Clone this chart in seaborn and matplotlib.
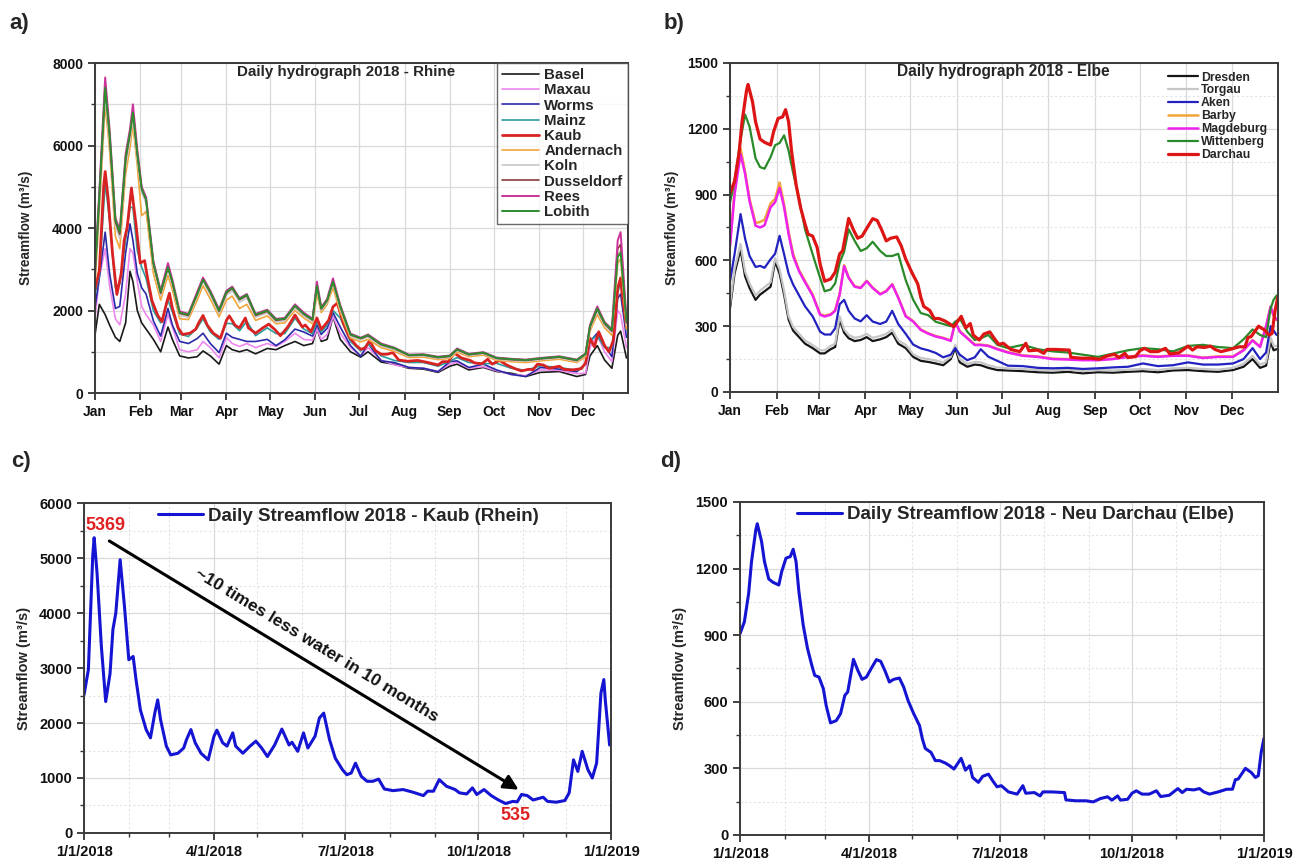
import numpy as np
import pandas as pd
import matplotlib
matplotlib.use("Agg")
import matplotlib.pyplot as plt
import seaborn as sns
from matplotlib.ticker import MultipleLocator, FixedLocator

# ---------------- Rhine (panel a) ----------------
rhine_days = [0, 3, 7, 10, 14, 17, 21, 24, 26, 29, 32, 35, 40, 45, 50, 53, 58, 64, 70, 74,
              79, 85, 90, 94, 99, 104, 110, 118, 124, 130, 137, 143, 149, 152, 155, 159, 163, 168, 175, 182,
              187, 196, 205, 215, 225, 235, 243, 248, 256, 266, 275, 285, 295, 305, 318, 330, 336, 339, 344, 349,
              354, 358, 360, 364]
basel = [1400, 2150, 1900, 1650, 1350, 1250, 1700, 2950, 2700, 2000, 1700, 1550, 1300, 1000, 1600, 1300, 900, 850, 880, 1020,
         900, 700, 1150, 1050, 1000, 1050, 950, 1080, 1050, 1150, 1250, 1150, 1200, 1550, 1250, 1300, 1850, 1300, 1000, 870,
         1000, 750, 700, 600, 580, 500, 650, 700, 560, 620, 520, 480, 400, 500, 520, 400, 450, 900, 1150, 800,
         600, 1400, 1500, 850]
maxau = [1800, 2800, 3500, 2600, 1800, 1650, 2400, 3500, 3400, 2700, 2100, 1900, 1650, 1250, 1900, 1600, 1050, 1000, 1050, 1250,
         1100, 850, 1350, 1200, 1130, 1200, 1100, 1200, 1130, 1250, 1450, 1300, 1280, 1550, 1300, 1420, 1850, 1450, 1100, 900,
         1100, 800, 680, 620, 600, 520, 700, 750, 600, 640, 540, 450, 420, 560, 550, 470, 480, 1100, 1400, 1000,
         760, 2000, 1900, 1100]
worms = [2060, 2800, 3900, 2900, 2050, 2100, 3400, 4100, 3700, 2900, 2550, 2400, 1750, 1380, 2050, 1650, 1250, 1200, 1320, 1450,
         1200, 980, 1450, 1350, 1300, 1250, 1250, 1300, 1150, 1290, 1550, 1480, 1380, 1650, 1420, 1570, 1950, 1600, 1150, 890,
         1200, 780, 740, 620, 600, 520, 760, 780, 620, 700, 560, 450, 400, 620, 580, 517, 700, 1250, 1450, 1150,
         880, 2300, 2400, 1350]
mainz = [2400, 2850, 5100, 4200, 2550, 2650, 3700, 4500, 4500, 3450, 3050, 2780, 2000, 1700, 2250, 1970, 1430, 1370, 1580, 1800,
         1480, 1300, 1690, 1680, 1510, 1740, 1390, 1580, 1440, 1440, 1810, 1550, 1440, 1740, 1480, 1650, 2000, 1820, 1250, 1020,
         1200, 900, 790, 740, 740, 650, 770, 860, 740, 710, 720, 600, 550, 660, 620, 550, 700, 1270, 1390, 1100,
         1100, 2440, 2670, 1530]
andernach = [2600, 4400, 7000, 5900, 3800, 3500, 5300, 5950, 6500, 5500, 4300, 4400, 2900, 2250, 2850, 2500, 1800, 1780, 2250, 2600,
             2280, 1850, 2250, 2350, 2050, 2150, 1760, 1870, 1680, 1700, 2000, 1820, 1680, 2400, 1950, 2150, 2550, 1960, 1330, 1240,
             1300, 1100, 1010, 860, 870, 810, 840, 990, 880, 920, 790, 760, 740, 780, 820, 740, 880, 1500, 1900, 1580,
             1400, 3150, 3250, 1550]
koln = [2750, 4600, 7200, 6100, 4050, 3750, 5500, 6150, 6650, 5650, 4850, 4600, 3080, 2370, 2980, 2620, 1880, 1840, 2350, 2700,
        2380, 1930, 2370, 2480, 2200, 2300, 1840, 1940, 1720, 1750, 2060, 1870, 1730, 2520, 2000, 2200, 2650, 2040, 1380, 1290,
        1360, 1140, 1050, 890, 900, 840, 870, 1030, 910, 950, 820, 790, 770, 810, 850, 770, 920, 1560, 1980, 1640,
        1460, 3350, 3450, 1650]
dusseldorf = [2850, 4750, 7450, 6250, 4150, 3850, 5650, 6300, 6850, 5800, 4950, 4680, 3150, 2420, 3050, 2680, 1930, 1880, 2400, 2760,
              2430, 1980, 2420, 2540, 2260, 2360, 1880, 1980, 1760, 1790, 2110, 1910, 1770, 2620, 2040, 2240, 2720, 2090, 1410, 1320,
              1390, 1170, 1080, 910, 920, 860, 890, 1050, 930, 970, 840, 810, 790, 830, 870, 790, 940, 1600, 2030, 1680,
              1500, 3500, 3600, 1700]
rees = [3000, 4900, 7650, 6400, 4250, 3950, 5800, 6400, 7000, 5900, 5000, 4750, 3200, 2480, 3150, 2750, 1980, 1920, 2450, 2800,
        2480, 2030, 2480, 2580, 2300, 2400, 1920, 2020, 1800, 1820, 2150, 1950, 1800, 2700, 2080, 2280, 2780, 2130, 1440, 1340,
        1420, 1200, 1100, 930, 940, 880, 910, 1080, 950, 990, 860, 830, 810, 850, 890, 810, 960, 1650, 2100, 1720,
        1550, 3700, 3900, 1800]
lobith = [2900, 4800, 7400, 6300, 4200, 3900, 5700, 6300, 6800, 5800, 4950, 4700, 3150, 2450, 3050, 2700, 1950, 1900, 2400, 2750,
          2450, 2000, 2450, 2550, 2280, 2380, 1900, 2000, 1780, 1800, 2120, 1920, 1780, 2600, 2050, 2250, 2700, 2100, 1420, 1330,
          1400, 1180, 1090, 920, 930, 870, 900, 1060, 940, 980, 850, 820, 800, 840, 880, 800, 950, 1620, 2050, 1700,
          1520, 3300, 3400, 1750]

# Kaub (panel a red line and panel c)
kaub_days = [0, 3, 6, 7, 9, 12, 15, 18, 20, 22, 25, 28, 31, 34, 36, 39, 43, 46, 49, 51,
             53, 57, 60, 65, 69, 71, 74, 77, 81, 86, 90, 92, 96, 99, 103, 105, 110, 115, 119, 123,
             127, 132, 137, 142, 144, 148, 152, 155, 160, 163, 166, 170, 174, 179, 182, 185, 188, 192, 196, 200,
             204, 208, 214, 221, 228, 235, 238, 242, 246, 251, 257, 260, 265, 269, 272, 277, 282, 287, 292, 297,
             300, 303, 307, 311, 318, 321, 327, 333, 336, 339, 342, 345, 349, 352, 355, 358, 360, 361, 364]
kaub = [2515, 2970, 5030, 5369, 4730, 3390, 2390, 2900, 3700, 4000, 4970, 4120, 3150, 3210, 2790, 2240, 1880, 1730, 2180, 2420,
        2060, 1580, 1420, 1450, 1545, 1700, 1880, 1640, 1450, 1330, 1760, 1870, 1640, 1580, 1820, 1580, 1450, 1580, 1670, 1545,
        1390, 1600, 1890, 1600, 1650, 1485, 1820, 1545, 1760, 2090, 2180, 1700, 1360, 1150, 1060, 1090, 1270, 1030, 940, 940,
        980, 800, 770, 790, 740, 680, 760, 760, 970, 850, 790, 730, 710, 820, 700, 790, 680, 600, 535, 575,
        565, 700, 680, 600, 650, 575, 560, 590, 730, 1330, 1120, 1485, 1150, 1000, 1270, 2545, 2790, 2420, 1600]

# ---------------- Elbe (panel b) ----------------
elbe_days = [0, 3, 7, 10, 13, 17, 20, 23, 27, 30, 33, 36, 39, 42, 46, 50, 55, 60, 63, 67,
             70, 73, 76, 79, 83, 87, 91, 95, 100, 104, 108, 112, 117, 122, 127, 132, 137, 142, 147, 150,
             153, 158, 163, 167, 172, 178, 185, 195, 205, 215, 225, 235, 245, 255, 265, 275, 285, 295, 305, 315,
             325, 335, 342, 348, 353, 357, 360, 362, 364]
dresden = [383, 540, 650, 528, 474, 420, 444, 459, 480, 595, 540, 444, 330, 280, 250, 220, 200, 176, 176, 195,
           205, 330, 270, 245, 232, 237, 250, 232, 240, 250, 270, 220, 200, 160, 142, 137, 130, 122, 150, 200,
           135, 115, 125, 122, 110, 100, 98, 95, 90, 88, 92, 85, 90, 88, 92, 95, 90, 98, 100, 95,
           92, 100, 115, 150, 110, 120, 230, 190, 195]
torgau = [400, 560, 675, 550, 495, 440, 462, 478, 500, 610, 560, 462, 345, 296, 265, 235, 214, 190, 190, 210,
          220, 345, 285, 260, 247, 252, 265, 247, 255, 265, 285, 235, 215, 172, 155, 150, 143, 135, 160, 215,
          150, 128, 137, 135, 122, 112, 108, 105, 100, 98, 102, 95, 100, 98, 102, 105, 100, 108, 110, 105,
          102, 110, 128, 165, 125, 135, 250, 210, 210]
aken = [505, 628, 811, 700, 620, 570, 575, 566, 605, 630, 712, 628, 540, 490, 440, 390, 345, 275, 262, 262,
        290, 400, 420, 370, 335, 322, 350, 321, 310, 321, 370, 310, 265, 216, 199, 190, 178, 158, 170, 200,
        170, 145, 158, 195, 161, 142, 120, 118, 110, 108, 110, 105, 108, 112, 115, 130, 118, 122, 135, 125,
        125, 130, 150, 200, 150, 180, 300, 280, 260]
barby = [680, 915, 1110, 1005, 880, 770, 775, 785, 860, 880, 955, 855, 730, 630, 555, 505, 445, 355, 348, 355,
         372, 448, 578, 522, 482, 476, 507, 476, 447, 461, 492, 432, 347, 323, 285, 268, 255, 247, 235, 318,
         278, 247, 216, 216, 212, 197, 182, 167, 162, 152, 150, 147, 147, 152, 162, 167, 162, 167, 167, 157,
         162, 162, 192, 237, 207, 298, 385, 348, 328]
magdeburg = [666, 900, 1085, 995, 870, 758, 750, 760, 842, 865, 930, 842, 720, 620, 550, 500, 440, 352, 344, 352,
             370, 444, 574, 520, 480, 474, 505, 474, 445, 459, 490, 430, 345, 321, 283, 266, 253, 245, 233, 320,
             275, 245, 214, 214, 210, 195, 180, 165, 160, 150, 148, 145, 145, 150, 160, 165, 160, 165, 165, 155,
             160, 160, 190, 235, 205, 300, 390, 350, 330]
wittenberg = [865, 960, 1150, 1265, 1210, 1065, 1025, 1018, 1071, 1125, 1135, 1170, 1100, 1000, 880, 740, 628, 520, 459, 467,
              495, 589, 640, 742, 689, 643, 655, 685, 643, 620, 620, 630, 510, 420, 360, 350, 320, 310, 300, 320,
              335, 275, 237, 245, 260, 215, 200, 215, 195, 185, 180, 170, 160, 175, 190, 200, 195, 185, 210, 215,
              205, 200, 240, 285, 260, 250, 380, 420, 440]

# Darchau (panel b red line and panel d)
darchau_days = [0, 3, 6, 8, 11, 12, 15, 17, 20, 23, 27, 29, 32, 35, 37, 39, 41, 44, 47, 50,
                52, 55, 58, 60, 63, 67, 70, 73, 75, 79, 82, 85, 88, 92, 95, 98, 101, 104, 107, 111,
                114, 117, 121, 125, 127, 129, 133, 136, 139, 143, 146, 149, 154, 157, 160, 162, 166, 169, 173, 176,
                179, 182, 187, 193, 197, 199, 205, 209, 211, 217, 226, 227, 234, 241, 246, 251, 256, 259, 263, 265,
                270, 273, 276, 280, 285, 290, 293, 299, 305, 308, 311, 316, 320, 323, 327, 333, 339, 343, 345, 347,
                352, 356, 359, 361, 363, 365]
darchau = [907, 960, 1088, 1232, 1375, 1402, 1322, 1232, 1153, 1138, 1126, 1186, 1247, 1254, 1287, 1232, 1096, 945, 840, 764,
           719, 711, 659, 583, 505, 515, 546, 629, 644, 791, 742, 701, 711, 757, 790, 782, 739, 689, 701, 707,
           666, 606, 546, 493, 433, 390, 372, 335, 335, 324, 312, 297, 345, 292, 312, 259, 237, 264, 274, 244,
           217, 222, 194, 184, 222, 188, 191, 176, 194, 194, 191, 158, 154, 154, 149, 164, 172, 157, 176, 157,
           161, 188, 199, 184, 184, 199, 173, 179, 209, 191, 206, 203, 209, 194, 184, 194, 206, 206, 249, 252,
           300, 282, 259, 267, 372, 437]

month_starts = [0, 31, 59, 90, 120, 151, 181, 212, 243, 273, 304, 334]
month_labels = ["Jan", "Feb", "Mar", "Apr", "May", "Jun", "Jul", "Aug", "Sep", "Oct", "Nov", "Dec"]
quarter_ticks = [0, 90, 181, 273, 365]
quarter_labels = ["1/1/2018", "4/1/2018", "7/1/2018", "10/1/2018", "1/1/2019"]

rhine_series = [("Basel", basel, "#1a1a1a", 1.2), ("Maxau", maxau, "#ee88ee", 1.2),
                ("Worms", worms, "#2a2aa8", 1.2), ("Mainz", mainz, "#2a9d9d", 1.2),
                ("Kaub", None, "#d92222", 2.0), ("Andernach", andernach, "#f2a53a", 1.2),
                ("Koln", koln, "#c8c8c8", 1.2), ("Dusseldorf", dusseldorf, "#8b3b3b", 1.2),
                ("Rees", rees, "#cc3399", 1.4), ("Lobith", lobith, "#2e8b2e", 1.4)]
elbe_series = [("Dresden", dresden, "#151515", 1.6), ("Torgau", torgau, "#c6c6c6", 1.6),
               ("Aken", aken, "#2222c0", 1.6), ("Barby", barby, "#f2a53a", 1.8),
               ("Magdeburg", magdeburg, "#ee22ee", 1.8), ("Wittenberg", wittenberg, "#2a8a2a", 1.6),
               ("Darchau", None, "#dd1515", 2.3)]

# ---------------- style ----------------
sns.set_theme(style="ticks")
plt.rcParams['font.family'] = ['Liberation Sans', 'DejaVu Sans']
plt.rcParams['font.weight'] = 'bold'
plt.rcParams['axes.labelweight'] = 'bold'
plt.rcParams['axes.titleweight'] = 'bold'

fig = plt.figure(figsize=(12.99, 8.60), dpi=100)
axa = fig.add_axes([0.0731, 0.5430, 0.4103, 0.3837])
axb = fig.add_axes([0.5620, 0.5442, 0.4219, 0.3826])
axc = fig.add_axes([0.0647, 0.0314, 0.4057, 0.3837])
axd = fig.add_axes([0.5697, 0.0291, 0.4034, 0.3872])


def base_style(ax, lab_size):
    for sp in ax.spines.values():
        sp.set_visible(True)
        sp.set_color('#3a3a3a')
        sp.set_linewidth(1.4)
    ax.set_axisbelow(True)
    ax.grid(True, which='major', color='#d9d9d9', lw=0.9)
    ax.grid(True, which='minor', color='#e3e3e3', lw=0.8, ls=(0, (2, 2)))
    ax.tick_params(which='major', direction='out', length=5, width=1.3, color='#333333',
                   labelsize=lab_size, labelcolor='#111111', bottom=True, left=True, top=False, right=False)
    ax.tick_params(which='minor', direction='out', length=3, width=1.0, color='#333333',
                   bottom=True, left=True, top=False, right=False)


# ---------------- panel a ----------------
for name, vals, col, lw in rhine_series:
    if name == "Kaub":
        sns.lineplot(x=kaub_days, y=kaub, ax=axa, color=col, lw=lw, label=name)
    else:
        sns.lineplot(x=rhine_days, y=vals, ax=axa, color=col, lw=lw, label=name)
axa.set_xlim(0, 365)
axa.set_ylim(0, 8000)
axa.xaxis.set_major_locator(FixedLocator(month_starts))
axa.set_xticklabels(month_labels)
axa.yaxis.set_major_locator(MultipleLocator(2000))
axa.yaxis.set_minor_locator(MultipleLocator(1000))
base_style(axa, 10)
axa.grid(True, which='minor', axis='y', color='#d9d9d9', lw=0.9, ls='-')
axa.set_xlabel("")
axa.set_ylabel("Streamflow (m³/s)", fontsize=9.8, labelpad=14)
axa.text(0.471, 0.972, "Daily hydrograph 2018 - Rhine", transform=axa.transAxes,
         ha='center', va='center', fontsize=10.9, fontweight='bold')
lga = axa.legend(loc='upper right', fontsize=10.8, frameon=True, fancybox=False, edgecolor='#444444',
                 handlelength=2.45, handletextpad=0.35, labelspacing=0.08, borderpad=0.35,
                 borderaxespad=0.0)
lga.get_frame().set_linewidth(1.0)

# ---------------- panel b ----------------
for name, vals, col, lw in elbe_series:
    if name == "Darchau":
        sns.lineplot(x=darchau_days, y=darchau, ax=axb, color=col, lw=lw, label=name)
    else:
        sns.lineplot(x=elbe_days, y=vals, ax=axb, color=col, lw=lw, label=name)
axb.set_xlim(0, 365)
axb.set_ylim(0, 1500)
axb.xaxis.set_major_locator(FixedLocator(month_starts))
axb.set_xticklabels(month_labels)
axb.yaxis.set_major_locator(MultipleLocator(300))
axb.yaxis.set_minor_locator(MultipleLocator(150))
base_style(axb, 10)
axb.set_xlabel("")
axb.set_ylabel("Streamflow (m³/s)", fontsize=9.8, labelpad=6)
axb.text(0.498, 0.974, "Daily hydrograph 2018 - Elbe", transform=axb.transAxes,
         ha='center', va='center', fontsize=11.2, fontweight='bold')
axb.legend(loc='upper right', fontsize=8.8, frameon=False, handlelength=2.5, handletextpad=0.2,
           labelspacing=0.08, borderaxespad=0.3, bbox_to_anchor=(0.995, 1.0))

# ---------------- panel c ----------------
sns.lineplot(x=kaub_days, y=kaub, ax=axc, color="#1414d2", lw=2.2,
             label="Daily Streamflow 2018 - Kaub (Rhein)")
axc.set_xlim(0, 365)
axc.set_ylim(0, 6000)
axc.xaxis.set_major_locator(FixedLocator(quarter_ticks))
axc.set_xticklabels(quarter_labels)
axc.xaxis.set_minor_locator(FixedLocator(month_starts))
axc.yaxis.set_major_locator(MultipleLocator(1000))
axc.yaxis.set_minor_locator(MultipleLocator(500))
base_style(axc, 10.5)
axc.set_xlabel("")
axc.set_ylabel("Streamflow (m³/s)", fontsize=10.5, labelpad=6)
axc.legend(loc='upper center', bbox_to_anchor=(0.502, 1.015), fontsize=13.5, frameon=False,
           handlelength=2.4, handletextpad=0.28, borderaxespad=0.1)
axc.text(15, 5600, "5369", color="#e02020", fontsize=13, fontweight='bold', ha='center', va='center')
axc.text(299, 310, "535", color="#e02020", fontsize=13, fontweight='bold', ha='center', va='center')
arr_start = (17.5, 5310)
arr_end = (301, 787)
axc.annotate("", xy=arr_end, xytext=arr_start,
             arrowprops=dict(arrowstyle='-|>', color='black', lw=2.2, mutation_scale=22,
                             shrinkA=0, shrinkB=0))
p0 = axc.transData.transform(arr_start)
p1 = axc.transData.transform(arr_end)
ang = np.degrees(np.arctan2(p1[1] - p0[1], p1[0] - p0[0]))
axc.text(161, 3410, "~10 times less water in 10 months", rotation=ang, rotation_mode='anchor',
         ha='center', va='center', fontsize=12.5, fontweight='bold', color='#111111')

# ---------------- panel d ----------------
sns.lineplot(x=darchau_days, y=darchau, ax=axd, color="#1414d2", lw=2.2,
             label="Daily Streamflow 2018 - Neu Darchau (Elbe)")
axd.set_xlim(0, 365)
axd.set_ylim(0, 1500)
axd.xaxis.set_major_locator(FixedLocator(quarter_ticks))
axd.set_xticklabels(quarter_labels)
axd.xaxis.set_minor_locator(FixedLocator(month_starts))
axd.yaxis.set_major_locator(MultipleLocator(300))
axd.yaxis.set_minor_locator(MultipleLocator(150))
base_style(axd, 10.5)
axd.set_xlabel("")
axd.set_ylabel("Streamflow (m³/s)", fontsize=10.5, labelpad=6)
axd.legend(loc='upper center', bbox_to_anchor=(0.525, 1.015), fontsize=13.5, frameon=False,
           handlelength=2.4, handletextpad=0.28, borderaxespad=0.1)

# ---------------- panel letters ----------------
fig.text(9 / 1299, 1 - 24 / 860, "a)", fontsize=16, fontweight='bold', ha='left', va='center')
fig.text(664 / 1299, 1 - 24 / 860, "b)", fontsize=16, fontweight='bold', ha='left', va='center')
fig.text(11 / 1299, 1 - 462 / 860, "c)", fontsize=16, fontweight='bold', ha='left', va='center')
fig.text(660 / 1299, 1 - 462 / 860, "d)", fontsize=16, fontweight='bold', ha='left', va='center')

fig.savefig("out.png", dpi=100)
